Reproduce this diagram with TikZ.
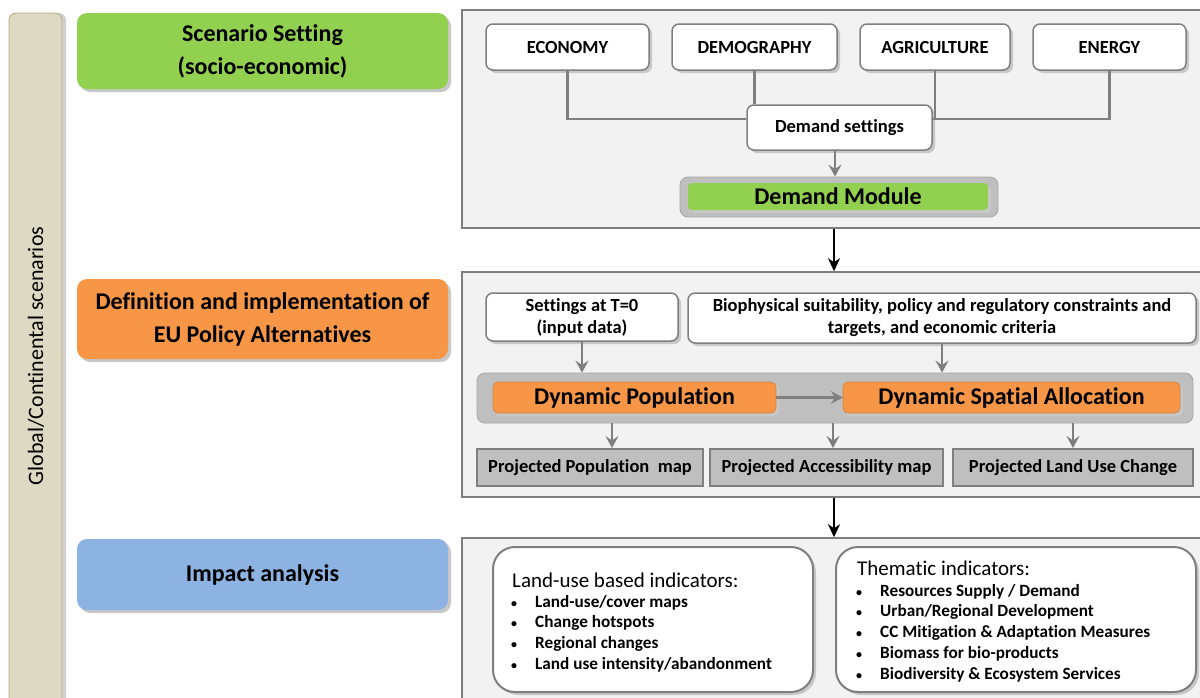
\documentclass[tikz,border=0pt]{standalone}
\usepackage{fontspec}
\setmainfont{Carlito}[Ligatures=NoCommon]
\usetikzlibrary{shadows,arrows.meta,calc}
\definecolor{cgreen}{HTML}{92D050}
\definecolor{corange}{HTML}{F79646}
\definecolor{cblue}{HTML}{8DB3E2}
\definecolor{cbeige}{HTML}{DDD9C3}
\definecolor{cbeigeb}{HTML}{B0A982}
\definecolor{cpanel}{HTML}{F2F2F2}
\definecolor{cborder}{HTML}{7F7F7F}
\definecolor{cband}{HTML}{BFBFBF}
\definecolor{cshadow}{HTML}{C8C8C8}
\tikzset{
  shad/.style={drop shadow={shadow xshift=3pt,shadow yshift=-3pt,fill=cshadow,opacity=1}},
  hdr/.style={shad,rounded corners=10,minimum width=371,inner sep=0,align=center,
    font=\fontsize{24}{33}\selectfont\bfseries},
  panel/.style={draw=cborder,line width=1.5,fill=cpanel,inner sep=0},
  wbox/.style={shad,draw=cborder,line width=1.5,fill=white,rounded corners=7,inner sep=0,align=center,
    font=\fontsize{18.5}{22}\selectfont\bfseries},
  projbox/.style={draw=cborder,line width=2,fill=cband,inner sep=0,
    font=\fontsize{18.5}{20}\selectfont\bfseries},
  obox/.style={shad,draw=corange!85!black,line width=0.6,fill=corange,rounded corners=5,inner sep=0,
    font=\fontsize{24}{26}\selectfont\bfseries},
  band/.style={draw=black!35,line width=0.8,fill=cband,rounded corners=8,inner sep=0},
  conn/.style={draw=cborder,line width=2.5},
  garrow/.style={conn,-{Stealth[length=12pt,width=13pt,inset=4.5pt]}},
  barrow/.style={draw=black,line width=2.2,-{Stealth[length=13pt,width=12pt,inset=4pt]}},
  ibox/.style={shad,draw=cborder,line width=2,fill=white,rounded corners=22,inner sep=0},
  ihead/.style={anchor=base west,inner sep=0,font=\fontsize{21}{22}\selectfont},
  iitem/.style={anchor=base west,inner sep=0,font=\fontsize{17.2}{20}\selectfont\bfseries},
  ibul/.style={anchor=base west,inner sep=0,font=\fontsize{12}{20}\selectfont\bfseries},
}
\begin{document}
\begin{tikzpicture}[x=1pt,y=-1pt]
\useasboundingbox (0,0) rectangle (1200,697);
% left bar
\node[draw=cbeigeb,line width=0.8,fill=cbeige,rounded corners=7,minimum width=53,minimum height=720,inner sep=0,
  drop shadow={shadow xshift=4pt,shadow yshift=0pt,fill=black!18,opacity=1}] (bar) at (35.5,373) {};
\node[rotate=90,font=\fontsize{22}{24}\selectfont] (bart) at (36,356) {Global/Continental scenarios};
% headers
\node[hdr,fill=cgreen,minimum height=76] (h1) at (262.5,51) {Scenario Setting\\(socio-economic)};
\node[hdr,fill=corange,minimum height=80] (h2) at (262.5,319) {Definition and implementation of\\EU Policy Alternatives};
\node[hdr,fill=cblue,minimum height=71] (h3) at (262.5,574.5) {Impact analysis};
% panels
\node[panel,minimum width=760,minimum height=218] (p1) at (842,119) {};
\node[panel,minimum width=760,minimum height=225] (p2) at (842,384.5) {};
\node[panel,minimum width=760,minimum height=180] (p3) at (842,628) {};
% panel 1
\node[wbox,minimum width=163,minimum height=46] (eco) at (567.5,47) {ECONOMY};
\node[wbox,minimum width=165,minimum height=46] (dem) at (754.5,47) {DEMOGRAPHY};
\node[wbox,minimum width=150,minimum height=46] (agr) at (935,47) {AGRICULTURE};
\node[wbox,minimum width=153,minimum height=46] (ene) at (1109.5,47) {ENERGY};
\node[wbox,minimum width=185,minimum height=45] (ds) at (839.5,127.5) {Demand settings};
\coordinate (j) at (0,119);
\draw[conn] (eco.south) -- (eco.south |- j) -- (j -| ds.west);
\draw[conn] (dem.south) -- (dem.south |- ds.north);
\draw[conn] (agr.south) -- (agr.south |- j);
\draw[conn] (ene.south) -- (ene.south |- j) -- (j -| ds.east);
\node[band,minimum width=318,minimum height=40] (dmo) at (839,197) {};
\node[shad,fill=cgreen,rounded corners=4,minimum width=300,minimum height=27,inner sep=0,
  font=\fontsize{24}{26}\selectfont\bfseries] (dm) at (838,196.5) {Demand Module};
\coordinate (a0) at (835,0);
\draw[garrow] (ds.south -| a0) -- (dmo.north -| a0);
% panel 2
\node[wbox,minimum width=192,minimum height=48] (set) at (582,317) {Settings at T=0\\(input data)};
\node[wbox,minimum width=508,minimum height=50] (bio) at (942,318) {Biophysical suitability, policy and regulatory constraints and\\targets, and economic criteria};
\node[band,minimum width=716,minimum height=50] (bnd) at (835,398) {};
\node[obox,minimum width=283,minimum height=31] (dp) at (634.5,397.5) {Dynamic Population};
\node[obox,minimum width=337,minimum height=31] (dsa) at (1011.5,397.5) {Dynamic Spatial Allocation};
\draw[garrow] (set.south) -- (set.south |- bnd.north);
\draw[garrow] (bio.south) -- (bio.south |- bnd.north);
\draw[garrow] (dp.east) -- (dsa.west);
\node[projbox,minimum width=226,minimum height=37] (pp) at (590,467.5) {Projected Population\ \ map};
\node[projbox,minimum width=233,minimum height=37] (pa) at (826.5,467.5) {Projected Accessibility map};
\node[projbox,minimum width=240,minimum height=37] (pl) at (1073,467.5) {Projected Land Use Change};
\coordinate (a1) at (612,0);
\coordinate (a2) at (833,0);
\draw[garrow] (bnd.south -| a1) -- (pp.north -| a1);
\draw[garrow] (bnd.south -| a2) -- (pa.north -| a2);
\draw[garrow] (bnd.south -| pl) -- (pl.north);
% black arrows
\coordinate (a3) at (834,0);
\draw[barrow] (p1.south -| a3) -- (p2.north -| a3);
\draw[barrow] (p2.south -| a3) -- (p3.north -| a3);
% panel 3
\node[ibox,minimum width=320,minimum height=145] (lu) at (653,619.5) {};
\node[ibox,minimum width=360,minimum height=145] (th) at (1016,619.5) {};
\node[ihead] (luh) at (512,587) {Land-use based indicators:};
\node[ibul] (lu1b) at (511,607) {•};
\node[iitem] (lu1) at (535,607) {Land-use/cover maps};
\node[ibul] (lu2b) at (511,627) {•};
\node[iitem] (lu2) at (535,627) {Change hotspots};
\node[ibul] (lu3b) at (511,648) {•};
\node[iitem] (lu3) at (535,648) {Regional changes};
\node[ibul] (lu4b) at (511,669) {•};
\node[iitem] (lu4) at (535,669) {Land use intensity/abandonment};
\node[ihead] (thh) at (857,575) {Thematic indicators:};
\node[ibul] (th1b) at (856,596) {•};
\node[iitem] (th1) at (880,596) {Resources Supply / Demand};
\node[ibul] (th2b) at (856,616) {•};
\node[iitem] (th2) at (880,616) {Urban/Regional Development};
\node[ibul] (th3b) at (856,637) {•};
\node[iitem] (th3) at (880,637) {CC Mitigation \& Adaptation Measures};
\node[ibul] (th4b) at (856,658) {•};
\node[iitem] (th4) at (880,658) {Biomass for bio-products};
\node[ibul] (th5b) at (856,679) {•};
\node[iitem] (th5) at (880,679) {Biodiversity \& Ecosystem Services};
\end{tikzpicture}
\end{document}
